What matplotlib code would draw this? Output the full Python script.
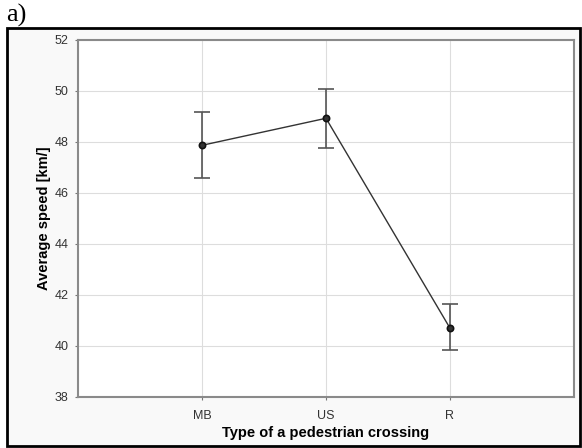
import matplotlib
matplotlib.use("Agg")
import matplotlib.pyplot as plt
from matplotlib.patches import Rectangle

categories = ["MB", "US", "R"]
means = [47.87, 48.93, 40.70]
upper = [49.19, 50.08, 41.65]
lower = [46.60, 47.77, 39.83]
yticks = [38, 40, 42, 44, 46, 48, 50, 52]

W, H = 582, 448
fig = plt.figure(figsize=(W / 100, H / 100), dpi=100)
fig.patch.set_facecolor("white")

# outer black frame
fig.patches.append(Rectangle((7 / W, 1 - 446 / H), (580 - 7) / W, (446 - 28) / H,
                             transform=fig.transFigure, facecolor="#f9f9f9",
                             edgecolor="black", linewidth=2, zorder=-10))
fig.text(6 / W, 1 - 15 / H, "a)", family="Liberation Serif", fontsize=19,
         va="center", ha="left")

ax = fig.add_axes([78 / W, 1 - 397 / H, (574 - 78) / W, (397 - 40) / H])
ax.set_zorder(1)
ax.set_facecolor("white")
x = list(range(1, len(categories) + 1))
yerr = [[m - l for m, l in zip(means, lower)], [u - m for m, u in zip(means, upper)]]
ax.errorbar(x, means, yerr=yerr, fmt="none", ecolor="#555555", elinewidth=1.2,
            capsize=5.5, capthick=1.2, zorder=3)
ax.plot(x, means, color="#333333", linewidth=1.0, marker="o", markersize=4.5,
        markerfacecolor="#333333", markeredgecolor="#111111", markeredgewidth=1.2, zorder=4)

ax.set_xlim(0, 4)
ax.set_ylim(38, 52)
ax.set_xticks(x)
ax.set_xticklabels(categories)
ax.set_yticks(yticks)
ax.grid(True, color="#dddddd", linewidth=0.8)
ax.set_axisbelow(True)
for s in ax.spines.values():
    s.set_color("#8a8a8a")
    s.set_linewidth(1.5)
ax.tick_params(axis="both", colors="#777777", labelsize=9, length=2, width=0.8,
               direction="out")
ax.tick_params(axis="x", pad=7)
ax.tick_params(axis="y", pad=5)
for lab in ax.get_xticklabels() + ax.get_yticklabels():
    lab.set_family("Liberation Sans")
    lab.set_color("#333333")
ax.set_xlabel("Type of a pedestrian crossing", family="Liberation Sans",
              fontweight="bold", fontsize=10.5, labelpad=3.5)
ax.set_ylabel("Average speed [km/]", family="Liberation Sans",
              fontweight="bold", fontsize=10.5, labelpad=2.5)

fig.savefig("out.png", dpi=100)
